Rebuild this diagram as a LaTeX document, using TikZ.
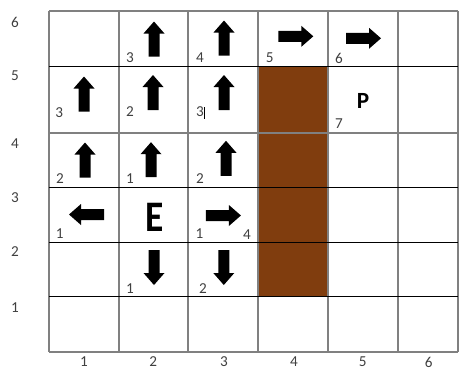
\documentclass[tikz,border=0pt]{standalone}
\usepackage{fontspec}
\setmainfont{Carlito}
\definecolor{wallbrown}{RGB}{128,61,14}
\tikzset{
  num/.style={inner sep=0pt, font=\fontsize{10.8}{12}\selectfont, text=black!75},
  blockarrow/.pic={\fill[black] (-17.5,-5.5) -- (5.5,-5.5) -- (5.5,-10.5) -- (17.5,0) -- (5.5,10.5) -- (5.5,5.5) -- (-17.5,5.5) -- cycle;}
}
\begin{document}
\begin{tikzpicture}[x=0.025cm,y=-0.025cm]
\useasboundingbox (0,0) rectangle (461,377);

% Wand
\fill[wallbrown] (258,66) rectangle (328,296);

% Gitter
\foreach \x in {49,119,188,258,328,398,458}
  \draw[gray, line width=0.8pt] (\x,11) -- (\x,352);
\foreach \y in {11,133,352}
  \draw[gray, line width=0.8pt] (49,\y) -- (458,\y);
\foreach \y in {66,187,242,296}
  \draw[black, line width=0.7pt] (49,\y) -- (458,\y);

% Achsenbeschriftungen
\foreach \y/\py in {6/22.5,5/76,4/144,3/198,2/252,1/308}
  \node[num] (row\y) at (15,\py) {\y};
\foreach \x/\px in {1/84,2/153.3,3/224,4/294,5/362.7,6/428.7}
  \node[num] (col\x) at (\px,362) {\x};

% Pfeile
\foreach \px/\py/\r in {154/39/90, 224/38/90, 295.8/36.3/0, 363.5/38.3/0,
                        84/94/90, 153/92.5/90, 224/92.5/90,
                        85/160/90, 151/159.7/90, 226/158.3/90,
                        86.5/214.5/180, 223.4/215.5/0,
                        154/267.5/-90, 223.8/267.5/-90}
  \pic[rotate=\r] at (\px,\py) {blockarrow};

% Schrittzahlen
\foreach \n/\px/\py/\t in {a/130/57.5/3, b/200/57.5/4, c/269.7/58/5, d/339/58/6,
                           e/59.3/112.5/3, f/130/112/2, g/200/112/3, h/339/124/7,
                           i/60/179/2, j/130/179/1, k/200/179/2,
                           l/59.7/234/1, m/199.5/234/1, n/247/234.5/4,
                           o/130/289/1, p/203/289/2}
  \node[num] (step\n) at (\px,\py) {\t};
\draw[line width=0.5pt] (204.5,107) -- (204.5,119); % Cursor

% Start und Ziel
\node[inner sep=0pt, font=\fontsize{16.5}{18}\selectfont\bfseries] (goal) at (363,100.5) {P};
\node[inner sep=0pt] (start) at (154.2,217) {\scalebox{0.86}[1]{\fontsize{31}{32}\selectfont\bfseries E}};

\end{tikzpicture}
\end{document}
